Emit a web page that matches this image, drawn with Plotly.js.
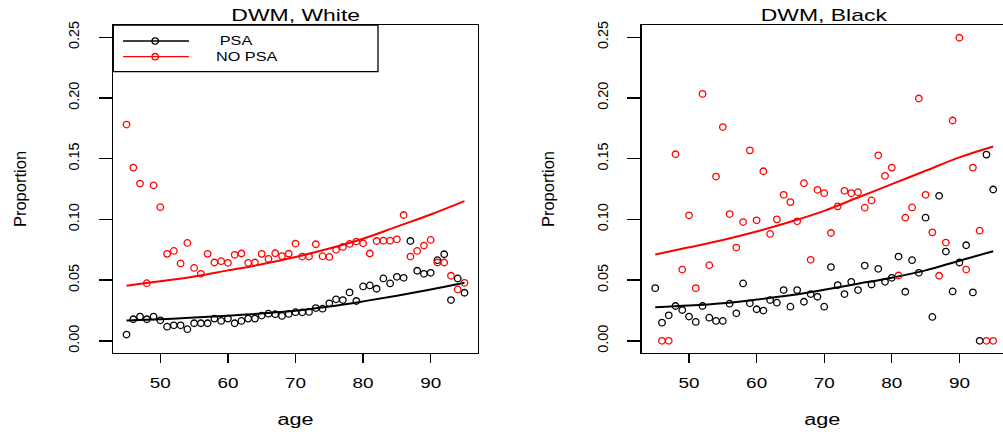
<!DOCTYPE html>
<html>
<head>
<meta charset="utf-8">
<script src="https://cdn.plot.ly/plotly-3.0.1.min.js"></script>
<style>html,body{margin:0;padding:0;background:#fff;}#plot{width:1003px;height:435px;}</style>
</head>
<body>
<div id="plot"></div>
<script>
// ---------- data ----------
const ages = [45,46,47,48,49,50,51,52,53,54,55,56,57,58,59,60,61,62,63,64,65,66,67,68,69,70,
              71,72,73,74,75,76,77,78,79,80,81,82,83,84,85,86,87,88,89,90,91,92,93,94,95];

const whitePSA = [0.0052,0.0178,0.0200,0.0178,0.0200,0.0169,0.0117,0.0128,0.0128,0.0096,
                  0.0145,0.0145,0.0145,0.0183,0.0164,0.0183,0.0145,0.0164,0.0183,0.0183,
                  0.0208,0.0224,0.0219,0.0205,0.0222,0.0236,0.0235,0.0238,0.0270,0.0265,
                  0.0309,0.0342,0.0336,0.0399,0.0328,0.0448,0.0456,0.0429,0.0514,0.0473,
                  0.0527,0.0519,0.0822,0.0577,0.0552,0.0560,0.0664,0.0713,0.0336,0.0514,0.0396];

const whiteNoPSA = [0.1780,0.1426,0.1295,0.0475,0.1280,0.1100,0.0716,0.0740,0.0637,0.0806,
                    0.0600,0.0552,0.0716,0.0645,0.0656,0.0642,0.0708,0.0719,0.0642,0.0645,
                    0.0716,0.0675,0.0721,0.0698,0.0717,0.0801,0.0694,0.0694,0.0795,0.0697,
                    0.0691,0.0749,0.0773,0.0798,0.0817,0.0803,0.0719,0.0822,0.0825,0.0825,
                    0.0836,0.1036,0.0694,0.0740,0.0784,0.0831,0.0645,0.0645,0.0536,0.0423,0.0478];

const blackPSA = [0.0434,0.0150,0.0210,0.0287,0.0254,0.0200,0.0156,0.0287,0.0191,0.0164,
                  0.0164,0.0306,0.0227,0.0473,0.0309,0.0260,0.0249,0.0336,0.0314,0.0418,
                  0.0281,0.0418,0.0322,0.0385,0.0363,0.0281,0.0607,0.0459,0.0385,0.0486,
                  0.0418,0.0620,0.0464,0.0593,0.0486,0.0519,0.0694,0.0404,0.0664,0.0560,
                  0.1014,0.0197,0.1194,0.0735,0.0407,0.0645,0.0787,0.0399,0.0000,0.1533,0.1246];

const blackNoPSA = [null,0.0000,0.0000,0.1536,0.0587,0.1033,0.0434,0.2033,0.0623,0.1352,
                    0.1760,0.1044,0.0768,0.0978,0.1568,0.0992,0.1396,0.0880,0.1000,0.1202,
                    0.1142,0.0984,0.1298,0.0667,0.1243,0.1216,0.0888,0.1107,0.1235,0.1216,
                    0.1224,0.1096,0.1156,0.1527,0.1358,0.1426,0.0538,0.1014,0.1098,0.1995,
                    0.1202,0.0893,0.0536,0.0809,0.1814,0.2495,0.0587,0.1426,0.0907,0.0000,0.0000];

// fitted curves, read at selected ages
const fitAges = [45,50,55,60,65,70,75,80,85,90,95];
const whitePSAFit   = [0.0167,0.0178,0.0192,0.0207,0.0225,0.0247,0.0282,0.0325,0.0372,0.0423,0.0478];
const whiteNoPSAFit = [0.0454,0.0490,0.0530,0.0580,0.0630,0.0690,0.0760,0.0840,0.0940,0.1040,0.1150];
const blackPSAFit   = [0.0276,0.0290,0.0310,0.0340,0.0375,0.0420,0.0470,0.0520,0.0580,0.0660,0.0738];
const blackNoPSAFit = [0.0710,0.0770,0.0830,0.0900,0.0980,0.1070,0.1180,0.1290,0.1400,0.1510,0.1600];

const panelTitles = ['DWM, White','DWM, Black'];
const legendLabels = ['PSA','NO PSA'];
const xTicks = [50,60,70,80,90];
const yTicks = [0,0.05,0.10,0.15,0.20,0.25];

// ---------- styling ----------
const FONT = 'Liberation Sans, Arial, Helvetica, sans-serif';
const RED = '#ff0000', BLK = '#000000';
const ML = 113, MR = 0, MT = 25, MB = 82, W = 1003, H = 435;
const PW = W - ML - MR, PH = H - MT - MB;
const px = v => (v - ML) / PW;
const py = v => (H - MB - v) / PH;

function pts(x, y, color, xa, ya) {
  return {x, y, type:'scatter', mode:'markers', xaxis:xa, yaxis:ya, showlegend:false, hoverinfo:'skip',
          marker:{symbol:'circle-open', size:6.5, color:color, line:{width:1.3, color:color}}};
}
function fit(x, y, color, xa, ya) {
  return {x, y, type:'scatter', mode:'lines', xaxis:xa, yaxis:ya, showlegend:false, hoverinfo:'skip',
          line:{color:color, width:2, shape:'spline', smoothing:1}};
}

const data = [
  fit(fitAges, whitePSAFit, BLK, 'x', 'y'),
  fit(fitAges, whiteNoPSAFit, RED, 'x', 'y'),
  pts(ages, whitePSA, BLK, 'x', 'y'),
  pts(ages, whiteNoPSA, RED, 'x', 'y'),
  fit(fitAges, blackPSAFit, BLK, 'x2', 'y2'),
  fit(fitAges, blackNoPSAFit, RED, 'x2', 'y2'),
  pts(ages, blackPSA, BLK, 'x2', 'y2'),
  pts(ages, blackNoPSA, RED, 'x2', 'y2')
];

const xBase = {
  tickvals:xTicks, ticks:'outside', ticklen:9, tickwidth:1.3, tickcolor:BLK,
  showline:true, linecolor:BLK, linewidth:1.3, showgrid:false, zeroline:false,
  tickfont:{family:FONT, size:14, color:BLK}, ticklabelstandoff:8,
  title:{text:'age', font:{family:FONT, size:16, color:BLK}, standoff:23}
};
const yBase = {
  range:[-0.01,0.26], tickvals:yTicks, tickformat:'.2f', ticks:'outside', ticklen:13, tickwidth:1.3,
  tickcolor:BLK, showline:true, linecolor:BLK, linewidth:1.3, showgrid:false, zeroline:false,
  tickangle:-90, tickfont:{family:FONT, size:14.5, color:BLK}, ticklabelstandoff:14,
  title:{text:'Proportion', font:{family:FONT, size:16.5, color:BLK}, standoff:35}
};

const L1 = 478, R2 = 641.7;
const layout = {
  width:W, height:H, margin:{l:ML, r:MR, t:MT, b:MB, pad:0},
  paper_bgcolor:'#fff', plot_bgcolor:'#fff', showlegend:false,
  font:{family:FONT, color:BLK},
  xaxis: Object.assign({}, xBase, {domain:[0, px(L1)], range:[43,97], mirror:true, anchor:'y'}),
  yaxis: Object.assign({}, yBase, {domain:[0,1], mirror:true, anchor:'x'}),
  xaxis2: Object.assign({}, xBase, {domain:[px(R2), 1], range:[43, 43 + (W - R2) / ((L1 - ML) / 54)], mirror:true, anchor:'y2'}),
  yaxis2: Object.assign({}, yBase, {domain:[0,1], mirror:false, anchor:'x2'}),
  shapes: [
    {type:'rect', xref:'paper', yref:'paper', x0:px(113.3), x1:px(378), y0:py(71.7), y1:py(25), line:{color:BLK, width:1.3}, fillcolor:'rgba(0,0,0,0)'},
    {type:'line', xref:'paper', yref:'paper', x0:px(123), x1:px(189), y0:py(41), y1:py(41), line:{color:BLK, width:1.3}},
    {type:'circle', xref:'paper', yref:'paper', x0:px(152), x1:px(158.5), y0:py(44.2), y1:py(37.8), line:{color:BLK, width:1.3}},
    {type:'line', xref:'paper', yref:'paper', x0:px(123), x1:px(189), y0:py(56.7), y1:py(56.7), line:{color:RED, width:1.3}},
    {type:'circle', xref:'paper', yref:'paper', x0:px(152), x1:px(158.5), y0:py(59.9), y1:py(53.5), line:{color:RED, width:1.3}}
  ],
  annotations: [
    {text:panelTitles[0], xref:'paper', yref:'paper', x:px(295.7), y:py(15.5), xanchor:'center', yanchor:'middle', showarrow:false, font:{family:FONT, size:17, color:BLK}},
    {text:panelTitles[1], xref:'paper', yref:'paper', x:px(824.2), y:py(15.5), xanchor:'center', yanchor:'middle', showarrow:false, font:{family:FONT, size:17, color:BLK}},
    {text:legendLabels[0], xref:'paper', yref:'paper', x:px(222), y:py(41), xanchor:'left', yanchor:'middle', showarrow:false, font:{family:FONT, size:12, color:BLK}},
    {text:legendLabels[1], xref:'paper', yref:'paper', x:px(222), y:py(56.7), xanchor:'left', yanchor:'middle', showarrow:false, font:{family:FONT, size:12, color:BLK}}
  ]
};

Plotly.newPlot('plot', data, layout, {staticPlot:true, displayModeBar:false}).then(gd => {
  // the reference image is horizontally stretched: widen horizontal text to match
  const S = 1.35;
  gd.querySelectorAll('svg text').forEach(t => {
    const tr = (t.getAttribute('transform') || '');
    if (tr.indexOf('rotate') >= 0) return;
    const L = t.getComputedTextLength();
    if (L > 0) { t.setAttribute('textLength', (L * S).toFixed(2)); t.setAttribute('lengthAdjust', 'spacingAndGlyphs'); }
  });
});
</script>
</body>
</html>
